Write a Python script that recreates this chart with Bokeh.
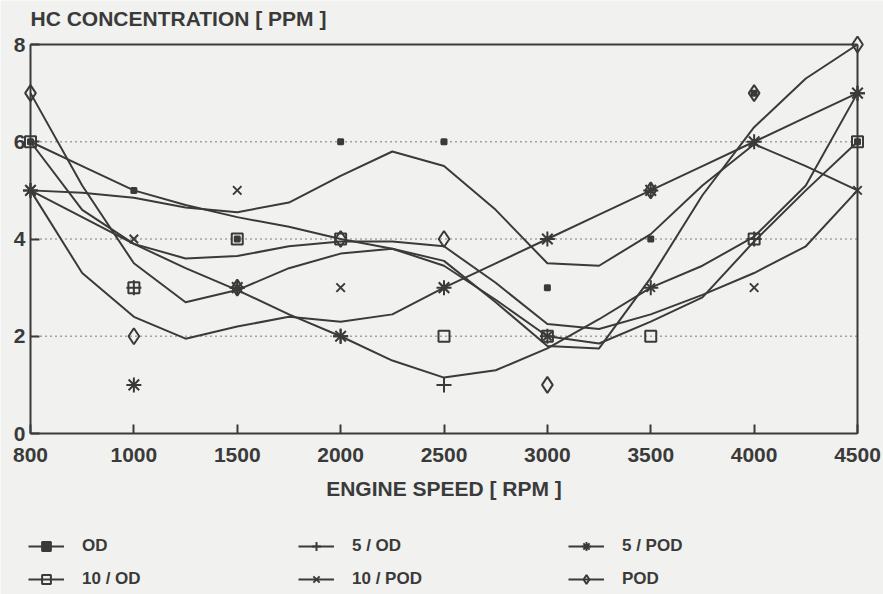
from bokeh.plotting import figure
from bokeh.models import Range1d, Legend, LegendItem, FixedTicker, Label
from bokeh.embed import file_html
from bokeh.resources import INLINE

# ---- data ----
rpm_labels = ["800", "1000", "1500", "2000", "2500", "3000", "3500", "4000", "4500"]
y_ticks = [0, 2, 4, 6, 8]
grid_ticks = [2, 4, 6]

# plotted markers (HC concentration, ppm) at each engine speed
od_pts = [6, 5, 4, 6, 6, 3, 4, 7, 6]
od5_pts = [5, 3, 3, 2, 1, 2, 3, 4, 7]
pod5_pts = [5, 1, 3, 2, 3, 4, 5, 6, 7]
od10_pts = [6, 3, 4, 4, 2, 2, 2, 4, 6]
pod10_pts = [5, 4, 5, 3, 3, 2, 3, 3, 5]
pod_pts = [7, 2, 3, 4, 4, 1, 5, 7, 8]

# fitted curves, read at every half step of the speed axis
od_curve = [6.0, 4.6, 3.9, 3.6, 3.65, 3.85, 3.95, 3.95, 3.85, 3.1, 2.25, 2.15, 2.45, 2.85, 3.3, 3.85, 5.0]
od5_curve = [5.0, 4.45, 3.9, 3.4, 2.95, 2.45, 2.0, 1.5, 1.15, 1.3, 1.75, 2.35, 3.0, 3.45, 4.05, 5.1, 7.0]
pod5_curve = [5.0, 3.3, 2.4, 1.95, 2.2, 2.4, 2.3, 2.45, 3.0, 3.5, 4.0, 4.5, 5.0, 5.5, 6.0, 6.5, 7.0]
od10_curve = [6.0, 5.5, 5.0, 4.7, 4.45, 4.25, 4.0, 3.8, 3.45, 2.75, 2.0, 1.85, 2.3, 2.8, 3.95, 5.0, 6.0]
pod10_curve = [5.0, 4.95, 4.85, 4.65, 4.55, 4.75, 5.3, 5.8, 5.5, 4.6, 3.5, 3.45, 4.1, 5.1, 5.95, 5.5, 5.0]
pod_curve = [7.0, 5.1, 3.5, 2.7, 2.95, 3.4, 3.7, 3.8, 3.55, 2.7, 1.8, 1.75, 3.2, 4.9, 6.3, 7.3, 8.0]

series_names = ["OD", "5 / OD", "5 / POD", "10 / OD", "10 / POD", "POD"]
series_pts = [od_pts, od5_pts, pod5_pts, od10_pts, pod10_pts, pod_pts]
series_curves = [od_curve, od5_curve, pod5_curve, od10_curve, pod10_curve, pod_curve]

# ---- styling / layout ----
BG = "#f1f1ef"
INK = "#3a3a3a"
FONT = "Liberation Sans"
marker_styles = [
    ("square", 5, True),
    ("cross", 15, False),
    ("asterisk", 15, False),
    ("square", 11, False),
    ("x", 12, False),
    ("diamond", 16, False),
]
W, H = 883, 594
BOX_LEFT, BOX_RIGHT, BOX_TOP, BOX_BOTTOM = 30, 857, 44, 433   # plot box on the canvas (px)
X_MAX = len(rpm_labels) - 1
Y_MAX = y_ticks[-1]
PX = (BOX_RIGHT - BOX_LEFT) / X_MAX
PY = (BOX_BOTTOM - BOX_TOP) / Y_MAX
# the frame covers the whole canvas; the box sits inside it
x_range = Range1d(-BOX_LEFT / PX, X_MAX + (W - BOX_RIGHT) / PX)
y_range = Range1d(-(H - BOX_BOTTOM) / PY, Y_MAX + BOX_TOP / PY)

x_pos = list(range(len(rpm_labels)))
curve_x = [i / 2 for i in range(2 * len(rpm_labels) - 1)]

p = figure(width=W, height=H, x_range=x_range, y_range=y_range,
           output_backend="svg", toolbar_location=None,
           background_fill_color=BG, border_fill_color=BG,
           min_border_left=0, min_border_right=0, min_border_top=0, min_border_bottom=0)
p.title.visible = False
p.outline_line_color = None
p.xgrid.visible = False
p.ygrid.visible = False

p.add_layout(Label(x=BOX_LEFT, y=H - 18, x_units="screen", y_units="screen",
                   text="HC CONCENTRATION [ PPM ]", text_font=FONT, text_font_size="21px",
                   text_font_style="bold", text_color=INK, text_baseline="alphabetic"))

def style_axis(ax):
    ax.axis_line_color = INK
    ax.axis_line_width = 2
    ax.major_tick_line_color = INK
    ax.major_tick_line_width = 2
    ax.major_tick_in = 9
    ax.major_tick_out = 0
    ax.minor_tick_line_color = None
    ax.major_label_text_font = FONT
    ax.major_label_text_font_size = "21px"
    ax.major_label_text_font_style = "bold"
    ax.major_label_text_color = INK
    ax.axis_label_text_font = FONT
    ax.axis_label_text_font_size = "21px"
    ax.axis_label_text_font_style = "bold"
    ax.axis_label_text_color = INK

xa = p.xaxis[0]
xa.fixed_location = 0
xa.bounds = (0, X_MAX)
xa.ticker = FixedTicker(ticks=x_pos)
xa.major_label_overrides = {i: lab for i, lab in enumerate(rpm_labels)}
xa.axis_label = "ENGINE SPEED [ RPM ]"
style_axis(xa)
xa.major_label_standoff = 14
xa.axis_label_standoff = 12

ya = p.yaxis[0]
ya.fixed_location = 0
ya.bounds = (0, Y_MAX)
ya.ticker = FixedTicker(ticks=y_ticks)
style_axis(ya)
ya.major_label_standoff = 5

# dotted reference lines at 2, 4 and 6, kept inside the box
n_grid = len(grid_ticks)
p.segment(x0=[x_pos[0]] * n_grid, x1=[x_pos[-1]] * n_grid, y0=grid_ticks, y1=grid_ticks,
          line_color="#555555", line_width=1.5, line_dash="1 4")
# top and right edges of the plot box
p.segment(x0=[x_pos[0], x_pos[-1]], y0=[Y_MAX, 0], x1=[x_pos[-1], x_pos[-1]], y1=[Y_MAX, Y_MAX],
          line_color=INK, line_width=2)

items = []
for name, pts, curve, (mk, sz, filled) in zip(series_names, series_pts, series_curves, marker_styles):
    ln = p.line(curve_x, curve, line_color=INK, line_width=2, line_join="round")
    sc = p.scatter(x_pos, pts, marker=mk, size=sz, line_color=INK, line_width=2,
                   fill_color=INK if filled else None)
    items.append(LegendItem(label=name, renderers=[ln, sc]))

# legend grid fills column by column: two rows, three columns
legend_order = [0, 3, 1, 4, 2, 5]
legend = Legend(items=[items[i] for i in legend_order], ncols=3, location=(28, 4))
legend.label_text_font = FONT
legend.label_text_font_size = "17px"
legend.label_text_font_style = "bold"
legend.label_text_color = INK
legend.glyph_width = 36
legend.glyph_height = 22
legend.label_standoff = 18
legend.label_width = 205
legend.spacing = 11
legend.padding = 0
legend.margin = 0
legend.background_fill_alpha = 0
legend.border_line_alpha = 0
p.add_layout(legend)

open("out.html", "w").write(file_html(p, INLINE))
